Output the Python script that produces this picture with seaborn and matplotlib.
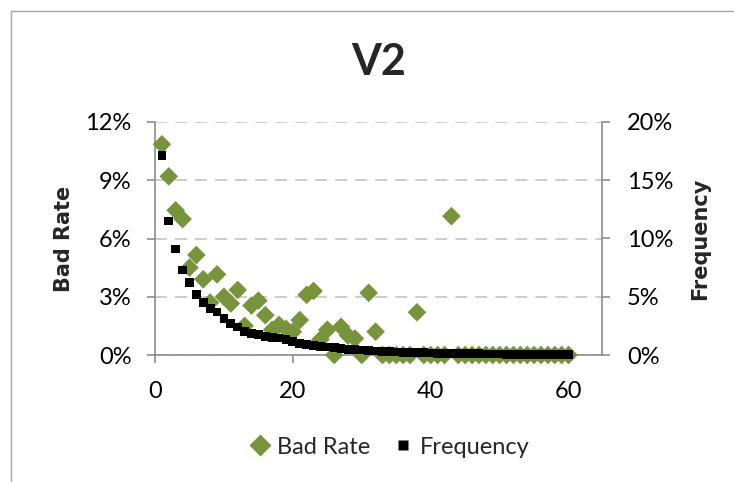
import matplotlib
matplotlib.use("Agg")
import matplotlib.pyplot as plt
import matplotlib.ticker as mticker
from matplotlib.lines import Line2D
import seaborn as sns
import pandas as pd

# ---- data ----
x_values = list(range(1, 61))
bad_rate = [10.85, 9.2, 7.45, 7.0, 4.5, 5.15, 3.9, 2.7, 4.15, 3.0,
            2.65, 3.35, 1.5, 2.55, 2.8, 2.05, 1.3, 1.55, 1.35, 1.2,
            1.8, 3.1, 3.3, 0.8, 1.3, 0.0, 1.45, 1.0, 0.85, 0.0,
            3.2, 1.2, 0.0, 0.0, 0.0, 0.0, 0.0, 2.2, 0.0, 0.0,
            0.0, 0.0, 7.15, 0.0, 0.0, 0.0, 0.0, 0.0, 0.0, 0.0,
            0.0, 0.0, 0.0, 0.0, 0.0, 0.0, 0.0, 0.0, 0.0, 0.0]
frequency = [17.1, 11.5, 9.1, 7.3, 6.2, 5.2, 4.5, 4.0, 3.7, 3.15,
             2.7, 2.4, 2.05, 1.85, 1.75, 1.6, 1.5, 1.45, 1.3, 1.15,
             1.0, 0.9, 0.8, 0.75, 0.68, 0.62, 0.56, 0.5, 0.46, 0.42,
             0.38, 0.34, 0.3, 0.28, 0.26, 0.24, 0.22, 0.2, 0.19, 0.17,
             0.16, 0.15, 0.14, 0.13, 0.12, 0.11, 0.1, 0.09, 0.09, 0.08,
             0.07, 0.07, 0.06, 0.06, 0.05, 0.05, 0.05, 0.04, 0.04, 0.04]
left_ticks = [0, 3, 6, 9, 12]
right_ticks = [0, 5, 10, 15, 20]
x_ticks = [0, 20, 40, 60]
title = "V2"

df = pd.DataFrame({"x": x_values, "bad_rate": bad_rate, "frequency": frequency})

sns.set_style("white")
plt.rcParams["font.family"] = ["Lato", "DejaVu Sans"]

GREEN = "#77933C"
AXIS_GRAY = "#8C8C8C"
GRID_GRAY = "#C0C0C0"

fig = plt.figure(figsize=(7.34, 4.82), dpi=100)
ax = fig.add_axes([155 / 734, 1 - 355 / 482, (602 - 155) / 734, (355 - 122) / 482])

sns.scatterplot(data=df, x="x", y="bad_rate", ax=ax, marker="D", s=90,
                color=GREEN, edgecolor="none", linewidth=0, legend=False, zorder=3)
for coll in ax.collections:
    coll.set_clip_on(False)
ax.set_xlim(0, 64.85)
ax.set_ylim(0, 12)
ax.set_xticks(x_ticks)
ax.set_yticks(left_ticks)
ax.yaxis.set_major_formatter(mticker.FuncFormatter(lambda v, p: f"{v:.0f}%"))
ax.yaxis.grid(True, color=GRID_GRAY, linewidth=1.1, linestyle=(0, (7.8, 5.3)))
ax.set_axisbelow(True)
ax.set_xlabel("")
ax.set_ylabel("Bad Rate", fontsize=15, fontweight="bold", family="DejaVu Sans", labelpad=8)

ax2 = ax.twinx()
sns.scatterplot(data=df, x="x", y="frequency", ax=ax2, marker="s", s=40,
                color="black", edgecolor="none", linewidth=0, legend=False, zorder=4)
for coll in ax2.collections:
    coll.set_clip_on(False)
ax2.set_ylim(0, 20)
ax2.set_yticks(right_ticks)
ax2.yaxis.set_major_formatter(mticker.FuncFormatter(lambda v, p: f"{v:.0f}%"))
ax2.set_ylabel("Frequency", fontsize=15, fontweight="bold", family="DejaVu Sans",
               rotation=90, labelpad=12)
ax2.grid(False)

for a in (ax, ax2):
    a.spines["top"].set_visible(False)
    for side in ("left", "right", "bottom"):
        a.spines[side].set_color(AXIS_GRAY)
        a.spines[side].set_linewidth(1.2)
ax.spines["right"].set_visible(False)
ax2.spines["left"].set_visible(False)
ax2.spines["bottom"].set_visible(False)

ax.tick_params(axis="both", which="major", direction="out", length=6, width=1.2,
               color=AXIS_GRAY, labelsize=17, labelcolor="black")
ax.tick_params(axis="y", left=True, pad=11)
ax.tick_params(axis="x", bottom=True, pad=13)
ax2.tick_params(axis="y", right=True, direction="out", length=6, width=1.2,
                color=AXIS_GRAY, labelsize=17, labelcolor="black", pad=12)

fig.text(379 / 734, 1 - 62 / 482, title, ha="center", va="center",
         fontsize=31, fontweight="bold")

handles = [
    Line2D([0], [0], marker="D", color="none", markerfacecolor=GREEN,
           markeredgecolor="none", markersize=11.5),
    Line2D([0], [0], marker="s", color="none", markerfacecolor="black",
           markeredgecolor="none", markersize=7),
]
fig.legend(handles, ["Bad Rate", "Frequency"], loc="center",
           bbox_to_anchor=(390 / 734, 1 - 447 / 482), ncol=2, frameon=False,
           fontsize=17, handlelength=0.8, handletextpad=0.3, columnspacing=1.0)

# outer chart border (partially visible)
fig.add_artist(Line2D([10.5 / 734, 10.5 / 734], [0, 1 - 10.5 / 482],
                      transform=fig.transFigure, color="#A6A6A6", linewidth=1))
fig.add_artist(Line2D([10.5 / 734, 1], [1 - 10.5 / 482, 1 - 10.5 / 482],
                      transform=fig.transFigure, color="#A6A6A6", linewidth=1))

fig.savefig("out.png", dpi=100)
